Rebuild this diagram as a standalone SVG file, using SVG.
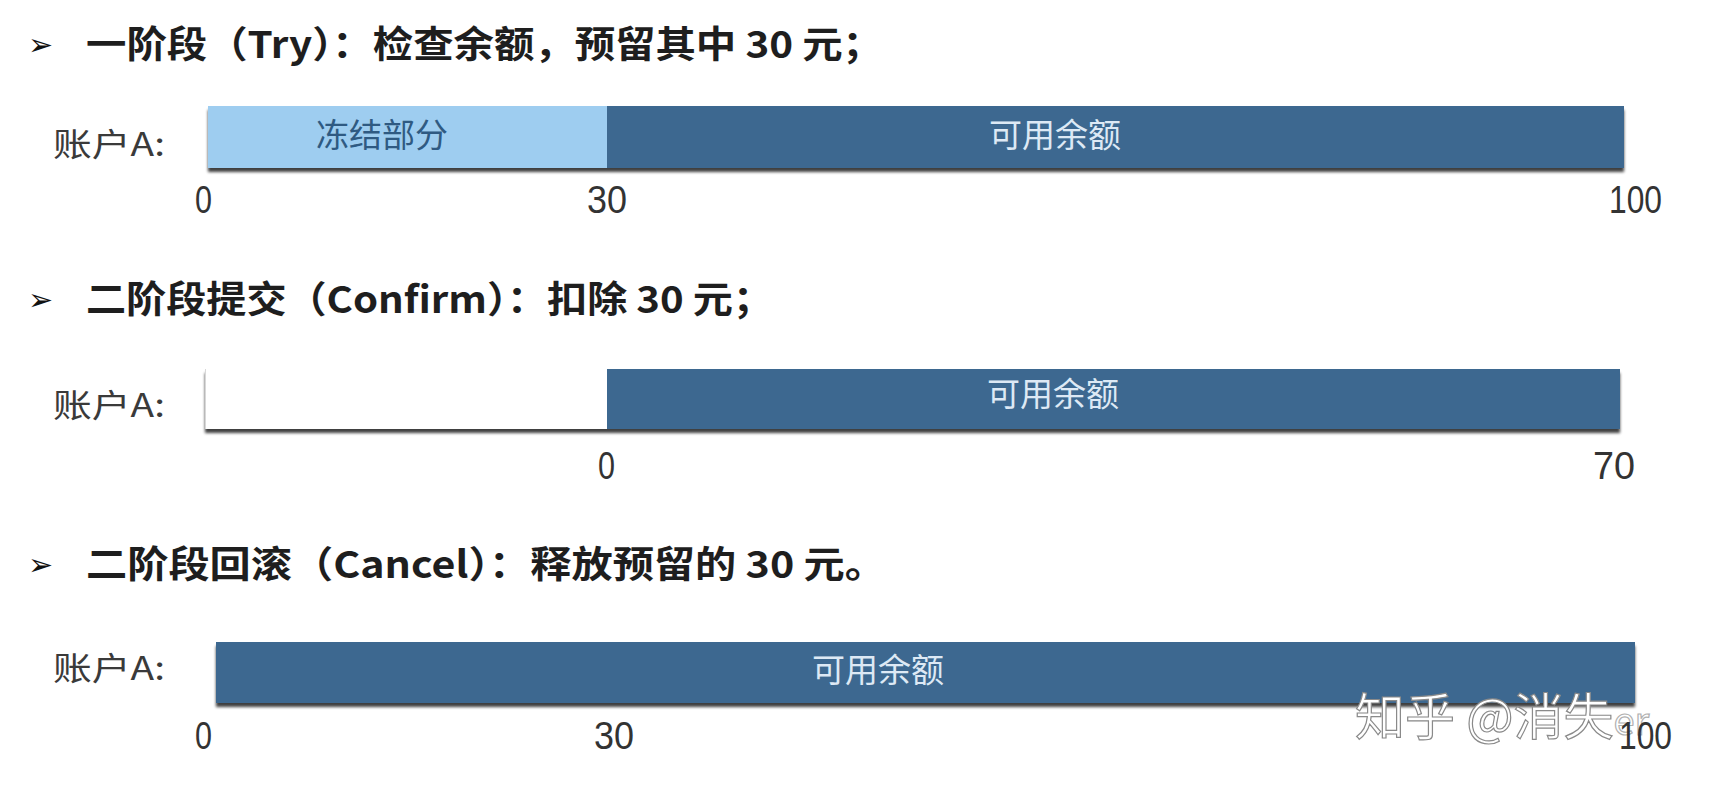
<svg xmlns="http://www.w3.org/2000/svg" width="1720" height="790" viewBox="0 0 1720 790">
<defs>
<filter id="sh" x="-2%" y="-20%" width="104%" height="150%">
<feGaussianBlur in="SourceAlpha" stdDeviation="1.5"/>
<feOffset dx="0" dy="4" result="b"/>
<feComponentTransfer><feFuncA type="linear" slope="0.75"/></feComponentTransfer>
<feMerge><feMergeNode/><feMergeNode in="SourceGraphic"/></feMerge>
</filter>
<style>
.title{font-family:"Noto Sans CJK SC","Liberation Sans",sans-serif;font-size:37px;font-weight:bold;fill:#1e1e1e}
.bul{font-family:"DejaVu Sans",sans-serif;font-size:30px;font-weight:bold;fill:#111}
.acc{font-family:"Noto Sans CJK SC","Liberation Sans",sans-serif;font-size:32px;fill:#3a3a3a}
.num{font-family:"Liberation Sans",sans-serif;font-size:39px;fill:#333}
.dark{fill:#3c6890}
.light{fill:#9ecdf0}
.inW{font-family:"Noto Sans CJK SC",sans-serif;font-size:33px;fill:#dde9f5;text-anchor:middle}
.inB{font-family:"Noto Sans CJK SC",sans-serif;font-size:33px;fill:#2f5a82;text-anchor:middle}
.wm{font-family:"Noto Sans CJK SC",sans-serif;font-size:50px;fill:#ffffff;stroke:#8a8a8a;stroke-width:1.2}
</style>
</defs>
<rect width="1720" height="790" fill="#ffffff"/>

<g id="section-try">
<text class="bul" x="28" y="55">➢</text>
<text class="title" x="86" y="58" textLength="797" lengthAdjust="spacingAndGlyphs">一阶段（Try）：检查余额，预留其中 30 元；</text>
<text class="acc" x="53" y="156" textLength="112" lengthAdjust="spacingAndGlyphs">账户A:</text>
<g filter="url(#sh)">
<rect class="light" x="208" y="106" width="400" height="62"/>
<rect class="dark" x="607" y="106" width="1017" height="62"/>
</g>
<text class="inB" x="382" y="147">冻结部分</text>
<text class="inW" x="1055" y="147">可用余额</text>
<text class="num" x="195" y="213" textLength="17" lengthAdjust="spacingAndGlyphs">0</text>
<text class="num" x="587" y="213" textLength="40" lengthAdjust="spacingAndGlyphs">30</text>
<text class="num" x="1609" y="213" textLength="53" lengthAdjust="spacingAndGlyphs">100</text>
</g>

<g id="section-confirm">
<text class="bul" x="28" y="310">➢</text>
<text class="title" x="86" y="313" textLength="687" lengthAdjust="spacingAndGlyphs">二阶段提交（Confirm）：扣除 30 元；</text>
<text class="acc" x="53" y="417" textLength="112" lengthAdjust="spacingAndGlyphs">账户A:</text>
<g filter="url(#sh)">
<rect x="205" y="369" width="403" height="60" fill="#ffffff"/>
<rect class="dark" x="607" y="369" width="1013" height="60"/>
</g>
<line x1="205.5" y1="369" x2="205.5" y2="429" stroke="#d8d8d8" stroke-width="1"/>
<text class="inW" x="1053" y="406">可用余额</text>
<text class="num" x="598" y="479" textLength="17" lengthAdjust="spacingAndGlyphs">0</text>
<text class="num" x="1593" y="479" textLength="42" lengthAdjust="spacingAndGlyphs">70</text>
</g>

<g id="section-cancel">
<text class="bul" x="28" y="575">➢</text>
<text class="title" x="86" y="578" textLength="800" lengthAdjust="spacingAndGlyphs">二阶段回滚（Cancel）：释放预留的 30 元。</text>
<text class="acc" x="53" y="680" textLength="112" lengthAdjust="spacingAndGlyphs">账户A:</text>
<g filter="url(#sh)">
<rect class="dark" x="216" y="642" width="1419" height="61"/>
</g>
<text class="inW" x="878" y="682">可用余额</text>
<text class="num" x="195" y="749" textLength="17" lengthAdjust="spacingAndGlyphs">0</text>
<text class="num" x="594" y="749" textLength="40" lengthAdjust="spacingAndGlyphs">30</text>
<text class="wm" x="1355" y="735">知乎 @消失<tspan font-size="38" stroke="#b0b0b0">er</tspan></text>
<text class="num" x="1619" y="749" textLength="53" lengthAdjust="spacingAndGlyphs">100</text>
</g>
</svg>
